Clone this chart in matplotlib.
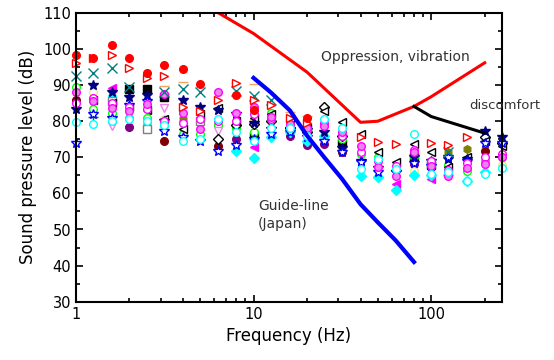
import numpy as np
import matplotlib.pyplot as plt
from matplotlib.ticker import MultipleLocator, NullFormatter

nan = np.nan

# 1/3 octave band centre frequencies
freqs = [1, 1.25, 1.6, 2, 2.5, 3.15, 4, 5, 6.3, 8, 10, 12.5, 16, 20, 25,
         31.5, 40, 50, 63, 80, 100, 125, 160, 200, 250]

# measured levels (dB), one list per symbol
red_dot = [98.4, 97.6, 101.2, 97.6, 93.5, 95.7, 94.6, 90.3, nan, 87.2, 83.2, nan, nan, 81.0, nan,
           nan, nan, nan, nan, nan, nan, nan, nan, nan, nan]
red_tri = [96.2, 97.6, 98.4, 94.8, 92.1, 92.4, 84.0, 82.7, 86.0, 90.7, 85.8, 84.6, 81.0, 79.4, nan,
           nan, 75.6, 74.3, 73.8, nan, 74.1, 73.3, 75.6, nan, nan]
teal_x = [92.6, 93.5, 94.8, 89.6, nan, 88.2, 88.9, 88.0, nan, 88.5, 86.9, 85.8, nan, nan, nan,
          nan, nan, nan, nan, nan, nan, 71.5, nan, nan, nan]
orange_dash = [nan, nan, nan, nan, nan, 89.9, 91.0, nan, nan, 90.5, 90.3, nan, 82.5, 81.5, nan,
               nan, nan, nan, nan, nan, nan, nan, nan, nan, nan]
navy_star = [83.3, 90.0, 88.0, 86.6, 87.4, 80.0, 86.0, 84.0, 83.0, 82.0, 79.5, 77.8, 77.8, 77.5, 77.0,
             72.5, 69.0, 67.0, 66.0, 70.0, 69.0, 69.5, 69.5, 77.2, 75.5]
blue_star = [74.0, 82.0, 81.0, 84.5, 85.5, 77.2, 75.5, 74.5, 71.7, 73.5, 75.0, 76.5, 77.0, 75.5, 74.5,
             71.5, 68.7, 66.0, 66.0, 68.5, 67.5, 70.0, 69.0, 74.0, 74.0]
magenta_circ1 = [88.0, 85.5, 83.8, 82.7, 84.9, 87.6, 82.4, 77.8, 88.0, 82.4, 84.0, 81.3, 79.2, 78.0, 78.6,
                 77.0, 73.1, 67.3, 64.8, 71.4, 67.6, 64.8, 67.0, 68.2, 70.0]
magenta_circ2 = [85.0, 86.5, 85.0, 84.0, 83.5, 80.0, 79.5, 80.5, 80.0, 80.0, 82.0, 80.5, 78.5, 77.5, 79.5,
                 76.0, 71.5, 69.0, 67.5, 72.0, 69.0, 66.5, 68.5, 70.0, 71.0]
cyan_circ = [79.7, 79.2, 80.0, 80.5, 80.0, 79.0, 74.5, 75.0, 80.5, 77.0, 74.5, 78.0, 78.0, 76.0, 80.5,
             78.0, 66.8, 69.5, 66.8, 76.4, 65.4, 66.0, 63.5, 65.4, 67.0]
cyan_diam = [nan, nan, nan, nan, nan, nan, nan, nan, nan, 71.7, 69.8, 75.6, 77.0, 74.5, 76.0,
             nan, 64.8, 64.5, 61.0, 65.0, 65.0, 65.0, 63.5, 66.0, nan]
black_ltri = [nan, 86.0, 85.0, 84.0, 83.0, 80.5, 77.8, 81.9, 83.8, 80.0, 81.0, 82.0, 81.0, 78.0, 82.7,
              79.7, 76.4, 71.4, 68.7, 73.7, 71.4, 67.3, 70.0, 74.5, 73.0]
black_diam = [nan, nan, nan, nan, nan, nan, nan, nan, 75.0, 79.0, 79.2, 80.0, 78.0, 77.0, 84.0,
              76.0, nan, nan, nan, nan, nan, nan, nan, 75.5, 74.0]
black_sq = [nan, nan, nan, 88.8, 88.8, 86.6, nan, nan, nan, nan, 76.0, nan, nan, nan, nan,
            74.0, nan, nan, nan, 70.0, 68.0, nan, nan, nan, nan]
gray_sq = [nan, nan, 85.5, nan, 77.8, nan, nan, 80.0, nan, nan, nan, nan, nan, nan, nan,
           nan, nan, nan, nan, nan, nan, nan, nan, nan, nan]
green_circ = [89.6, 83.5, 82.4, 81.0, 81.0, 79.0, 76.4, 76.4, 79.0, 78.0, 77.0, 82.4, 79.0, 76.0, 79.0,
              75.0, 70.9, 70.0, 67.0, 70.0, 69.0, 68.0, 66.2, 69.0, 70.0]
yellow_circ = [nan, 88.0, nan, nan, nan, 80.5, nan, nan, nan, 79.7, 80.5, 82.4, nan, nan, nan,
               nan, nan, nan, nan, 66.2, nan, nan, nan, nan, 68.0]
purple_dot = [nan, nan, nan, 78.3, nan, nan, nan, nan, nan, 75.0, nan, nan, 76.0, 73.4, 73.7,
              nan, nan, nan, nan, 68.2, nan, nan, nan, nan, nan]
maroon_dot = [86.0, nan, nan, nan, nan, 74.5, nan, nan, 73.1, nan, nan, nan, nan, nan, nan,
              71.4, nan, nan, nan, nan, nan, nan, nan, 71.7, nan]
olive_hex = [nan, nan, nan, nan, 79.7, nan, 80.5, nan, nan, nan, nan, nan, nan, nan, nan,
             72.3, nan, nan, nan, nan, nan, 71.4, 72.3, nan, nan]
violet_vtri = [nan, nan, 78.6, nan, nan, 83.8, nan, nan, 77.2, nan, nan, nan, 79.0, nan, nan,
               nan, nan, nan, nan, nan, nan, nan, nan, nan, nan]
magenta_ltri = [nan, nan, 89.3, nan, nan, nan, nan, nan, nan, nan, 72.8, nan, nan, nan, nan,
                nan, nan, nan, 62.6, nan, 64.0, nan, nan, nan, nan]
green_plus = [nan, 81.3, nan, nan, nan, nan, nan, nan, nan, nan, nan, nan, nan, nan, nan,
              nan, nan, nan, nan, nan, nan, nan, nan, nan, nan]
cyan_tri = [nan, nan, 88.2, nan, nan, nan, nan, nan, nan, nan, nan, nan, nan, nan, nan,
            nan, nan, nan, nan, nan, nan, nan, nan, nan, nan]

# criterion curves
opp_f = [5, 10, 20, 40, 50, 80, 100, 200]
opp_db = [113, 104.3, 93.6, 79.7, 80.0, 84.1, 86.8, 96.2]
disc_f = [80, 100, 200]
disc_db = [84.1, 81.3, 76.7]
guide_f = [10, 12.5, 16, 20, 25, 31.5, 40, 50, 63, 80]
guide_db = [92, 88, 83, 76, 70, 64, 57, 52, 47, 41]

fig = plt.figure(figsize=(5.54, 3.6), dpi=100)
ax = fig.add_axes([0.137, 0.162, 0.769, 0.802])

# (data, marker, face, edge)
styles = [
    (maroon_dot, 'o', 'maroon', 'maroon'),
    (purple_dot, 'o', 'purple', 'purple'),
    (olive_hex, 'h', 'olive', 'olive'),
    (gray_sq, 's', 'white', 'gray'),
    (black_sq, 's', 'black', 'black'),
    (yellow_circ, 'o', 'white', 'khaki'),
    (green_circ, 'o', 'white', 'lime'),
    (violet_vtri, 'v', 'white', 'violet'),
    (magenta_ltri, '<', 'magenta', 'magenta'),
    (cyan_tri, '^', 'white', 'cyan'),
    (green_plus, '+', 'green', 'green'),
    (black_diam, 'D', 'white', 'black'),
    (black_ltri, '<', 'white', 'black'),
    (cyan_diam, 'D', 'cyan', 'cyan'),
    (navy_star, '*', 'navy', 'navy'),
    (blue_star, '*', 'white', 'blue'),
    (magenta_circ2, 'o', 'white', 'magenta'),
    (magenta_circ1, 'o', 'violet', 'magenta'),
    (cyan_circ, 'o', 'white', 'cyan'),
    (orange_dash, '_', 'sandybrown', 'sandybrown'),
    (teal_x, 'x', 'teal', 'teal'),
    (red_tri, '>', 'white', 'red'),
    (red_dot, 'o', 'red', 'red'),
]
for vals, m, fc, ec in styles:
    ms = 7 if m in ('*', '_', 'x', '+') else 5.5
    ax.plot(freqs, vals, linestyle='none', marker=m, markersize=ms,
            markerfacecolor=fc, markeredgecolor=ec, markeredgewidth=1.0, clip_on=False)

ax.plot(opp_f, opp_db, color='red', lw=2.2)
ax.plot(disc_f, disc_db, color='black', lw=2.2)
ax.plot(guide_f, guide_db, color='blue', lw=3)

ax.text(63, 97.8, 'Oppression, vibration', fontsize=10, color='#333333',
        ha='center', va='center')
ax.text(1.007, 0.68, 'discomfort', transform=ax.transAxes, fontsize=9.5, color='#333333',
        ha='center', va='center')
ax.text(10.6, 54.1, 'Guide-line\n(Japan)', fontsize=10, color='#333333',
        va='center', linespacing=1.35)

ax.set_xscale('log')
ax.set_xlim(1, 250)
ax.set_ylim(30, 110)
ax.set_xticks([1, 10, 100])
ax.set_xticklabels(['1', '10', '100'])
ax.xaxis.set_minor_formatter(NullFormatter())
ax.yaxis.set_major_locator(MultipleLocator(10))
ax.yaxis.set_minor_locator(MultipleLocator(5))

ax.tick_params(which='both', direction='in', top=True, right=True, labelsize=10.5, width=1.2)
ax.tick_params(which='major', length=5)
ax.tick_params(which='minor', length=3)
for sp in ax.spines.values():
    sp.set_linewidth(1.5)

ax.set_xlabel('Frequency (Hz)', fontsize=12)
ax.set_ylabel('Sound pressure level (dB)', fontsize=12)

plt.savefig('out.png', dpi=100)
